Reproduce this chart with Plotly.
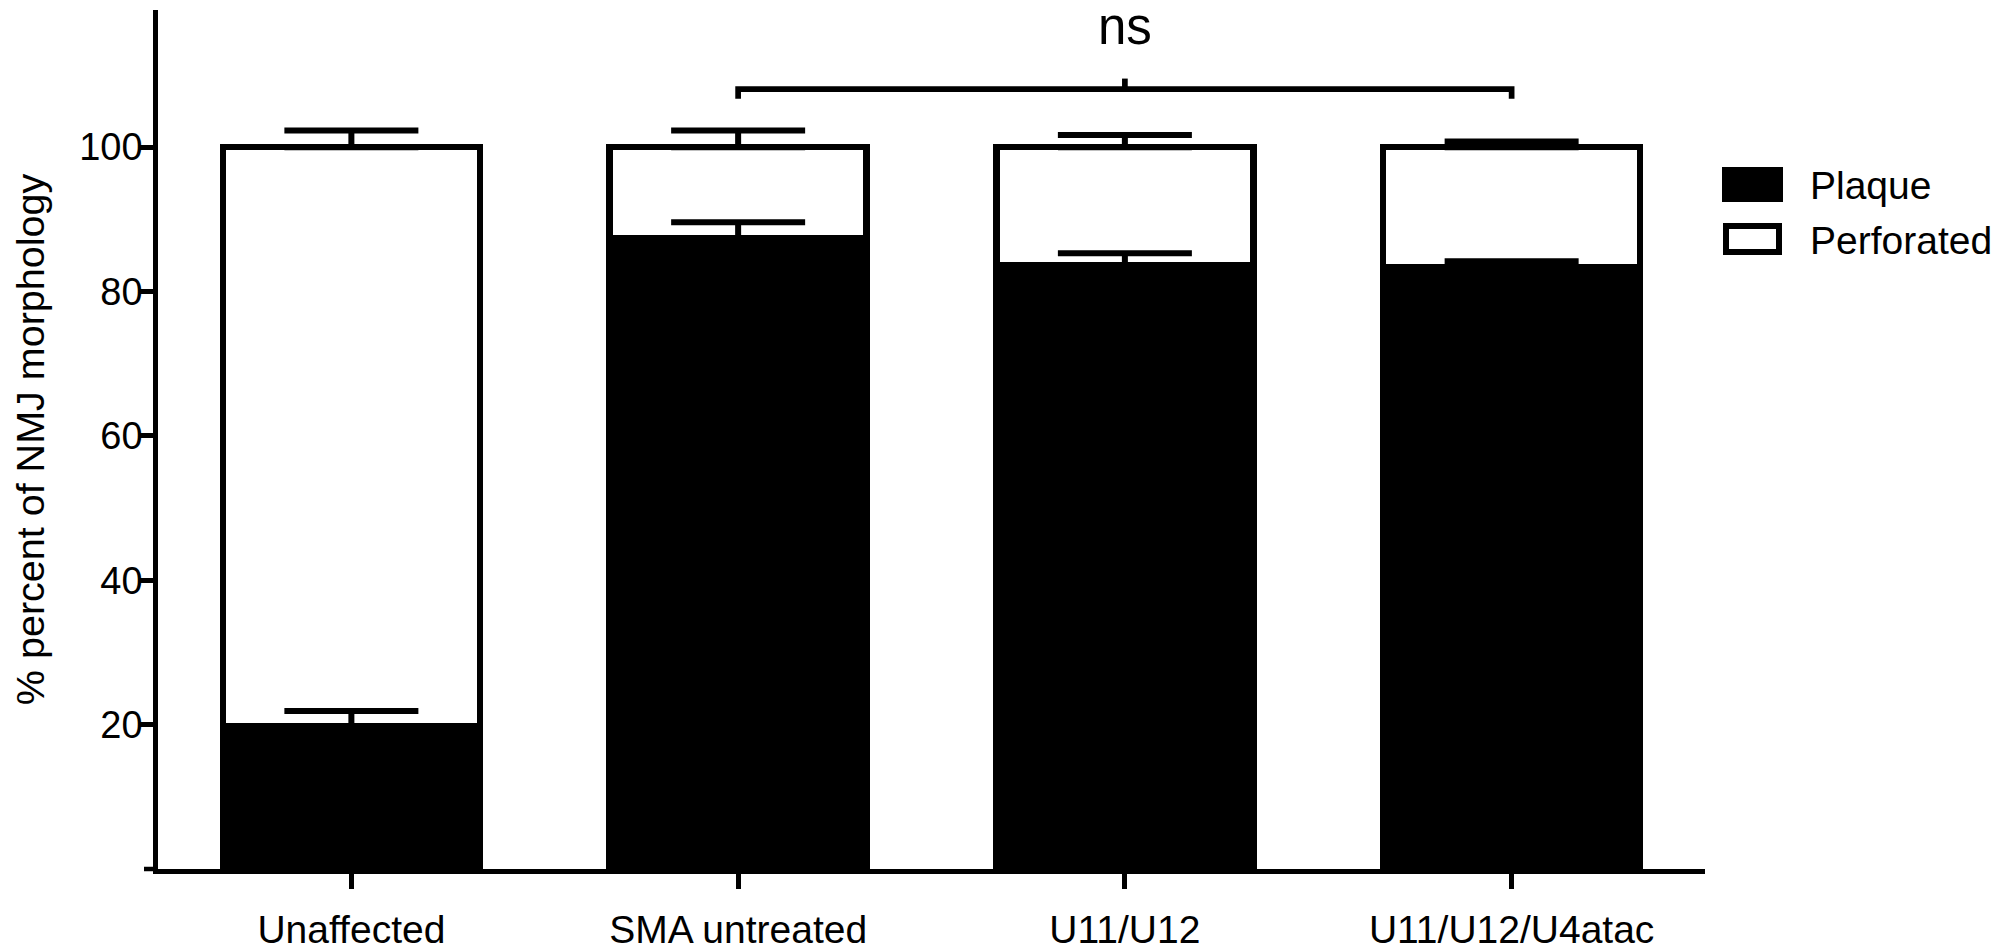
import plotly.graph_objects as go

categories = ["Unaffected", "SMA untreated", "U11/U12", "U11/U12/U4atac"]
plaque = [19.8, 87.4, 83.6, 83.4]
plaque_err = [2.1, 2.2, 1.7, 0.8]
perforated = [100 - v for v in plaque]
perforated_err = [2.3, 2.3, 1.7, 0.8]
y_ticks = [20, 40, 60, 80, 100]
legend_names = ["Plaque", "Perforated"]
ns_label = "ns"
y_title = "% percent of NMJ morphology"

FONT = "Liberation Sans, Arial, Helvetica, sans-serif"
OFF = 8  # page body margin
W, H = 2015 - OFF, 950 - OFF
L = 158 - OFF
T = 10 - OFF
R = W + OFF - 1705
B = H + OFF - 869
PW, PH = W - L - R, H - T - B


def px_x(p):
    return (p - OFF - L) / PW


def px_y(p):
    return (H + OFF - B - p) / PH


fig = go.Figure()
fig.add_trace(go.Bar(x=categories, y=plaque, name=legend_names[0], width=0.665,
                     marker=dict(color="black", line=dict(color="black", width=6.5)),
                     showlegend=False))
fig.add_trace(go.Bar(x=categories, y=perforated, name=legend_names[1], width=0.665,
                     marker=dict(color="white", line=dict(color="black", width=6.5)),
                     showlegend=False))

# error bars (drawn above bars)
fig.add_trace(go.Scatter(x=categories, y=plaque, mode="markers",
                         marker=dict(size=1, color="rgba(0,0,0,0)"), showlegend=False,
                         hoverinfo="skip",
                         error_y=dict(type="data", array=plaque_err, arrayminus=[0] * 4,
                                      symmetric=False, thickness=6, width=67, color="black")))
tops = [a + b for a, b in zip(plaque, perforated)]
fig.add_trace(go.Scatter(x=categories, y=tops, mode="markers",
                         marker=dict(size=1, color="rgba(0,0,0,0)"), showlegend=False,
                         hoverinfo="skip",
                         error_y=dict(type="data", array=perforated_err, arrayminus=[0] * 4,
                                      symmetric=False, thickness=6, width=67, color="black")))

shapes = []
# bracket between SMA untreated and U11/U12/U4atac
br_y, br_end, br_tick = 108.05, 106.7, 109.5
shapes.append(dict(type="path", xref="x", yref="y",
                   path=f"M 1,{br_end} L 1,{br_y} L 3,{br_y} L 3,{br_end}",
                   line=dict(color="black", width=5.7)))
shapes.append(dict(type="line", xref="x", yref="y", x0=2, x1=2, y0=br_y, y1=br_tick,
                   line=dict(color="black", width=5.7)))
# x-axis line extension to the left of y axis
shapes.append(dict(type="line", xref="paper", yref="paper", x0=px_x(144), x1=0, y0=0, y1=0,
                   line=dict(color="black", width=4.5)))
# legend swatches
shapes.append(dict(type="rect", xref="paper", yref="paper",
                   x0=px_x(1723), x1=px_x(1782), y0=px_y(201), y1=px_y(168),
                   fillcolor="black", line=dict(color="black", width=2)))
shapes.append(dict(type="rect", xref="paper", yref="paper",
                   x0=px_x(1726), x1=px_x(1779), y0=px_y(252), y1=px_y(226),
                   fillcolor="white", line=dict(color="black", width=6)))

annotations = [
    dict(x=2, y=116.7, xref="x", yref="y", text=ns_label, showarrow=False,
         font=dict(family=FONT, size=51, color="black"), xanchor="center", yanchor="middle"),
    dict(x=px_x(1808), y=px_y(185), xref="paper", yref="paper", text=legend_names[0],
         showarrow=False, xanchor="left", yanchor="middle",
         font=dict(family=FONT, size=39, color="black")),
    dict(x=px_x(1808), y=px_y(240), xref="paper", yref="paper", text=legend_names[1],
         showarrow=False, xanchor="left", yanchor="middle",
         font=dict(family=FONT, size=39, color="black")),
]

fig.update_layout(
    width=W, height=H, barmode="stack",
    margin=dict(l=L, r=R, t=T, b=B, pad=0, autoexpand=False),
    plot_bgcolor="white", paper_bgcolor="white",
    font=dict(family=FONT, size=38, color="black"),
    shapes=shapes, annotations=annotations,
    xaxis=dict(range=[-0.5, 3.5], showline=True, linecolor="black", linewidth=4.5,
               ticks="outside", ticklen=15, tickwidth=4.5, tickcolor="black",
               ticklabelstandoff=7, automargin=False,
               showgrid=False, zeroline=False, tickfont=dict(family=FONT, size=39)),
    yaxis=dict(range=[0, 119], showline=True, linecolor="black", linewidth=4.5,
               ticks="outside", ticklen=13, tickwidth=4.5, tickcolor="black",
               ticklabelstandoff=-10, automargin=False,
               tickvals=y_ticks, showgrid=False, zeroline=False,
               tickfont=dict(family=FONT, size=38),
               title=dict(text=y_title, font=dict(family=FONT, size=39.5), standoff=26)),
)

fig.write_html("out.html")
